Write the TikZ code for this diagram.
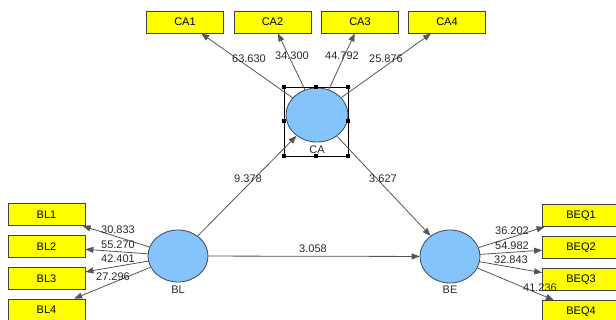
\documentclass[tikz,border=0pt]{standalone}
\usepackage{fontspec}
\setmainfont{Liberation Sans}
\usetikzlibrary{shapes.geometric,arrows.meta}
\definecolor{boxyellow}{RGB}{255,255,0}
\definecolor{lvblue}{RGB}{133,196,250}
\definecolor{lvborder}{RGB}{60,72,88}
\definecolor{linegray}{RGB}{85,85,85}
\definecolor{txt}{RGB}{40,40,40}
\begin{document}
\begin{tikzpicture}[x=1pt,y=-1pt,
  every node/.style={font=\fontsize{11}{13}\selectfont},
  indbox/.style={draw=black!75,line width=0.8pt,fill=boxyellow,minimum width=77pt,minimum height=22pt,inner sep=0pt},
  latent/.style={ellipse,draw=lvborder,line width=0.8pt,fill=lvblue,inner sep=0pt},
  conn/.style={draw=linegray,line width=0.8pt,-{Triangle[length=8pt,width=6pt]}},
  num/.style={text=txt,inner sep=0pt},
  handle/.style={fill=black,minimum size=4pt,inner sep=0pt}
]
\useasboundingbox (0,0) rectangle (616,320);

% indicator boxes
\node[indbox] (CA1) at (185,22) {CA1};
\node[indbox] (CA2) at (272.5,22) {CA2};
\node[indbox] (CA3) at (360,22) {CA3};
\node[indbox] (CA4) at (447,22) {CA4};
\node[indbox] (BL1) at (46.5,214.5) {BL1};
\node[indbox] (BL2) at (46.5,246.5) {BL2};
\node[indbox] (BL3) at (46.5,278.5) {BL3};
\node[indbox] (BL4) at (46.5,310) {BL4};
\node[indbox] (BEQ1) at (581,215.5) {BEQ1};
\node[indbox] (BEQ2) at (581,247.5) {BEQ2};
\node[indbox] (BEQ3) at (581,279.5) {BEQ3};
\node[indbox] (BEQ4) at (581,311.5) {BEQ4};

% latent variables
\node[latent,minimum width=62pt,minimum height=54pt] (CA) at (317,115) {};
\node[latent,minimum width=60pt,minimum height=52pt] (BL) at (178,256) {};
\node[latent,minimum width=60pt,minimum height=53pt] (BE) at (450,256.5) {};
\node[num] (CAlab) at (317,150) {CA};
\node[num] (BLlab) at (178,290) {BL};
\node[num] (BElab) at (450,290) {BE};

% selection frame round CA
\node[draw=black,line width=0.6pt,minimum width=64pt,minimum height=69pt,inner sep=0pt] (CAsel) at (316,121.5) {};
\foreach \a in {north west,north,north east,west,east,south west,south,south east}
  \node[handle] at (CAsel.\a) {};

% connectors
\foreach \t in {CA1,CA2,CA3,CA4} \draw[conn] (CA) -- (\t);
\foreach \t in {BL1,BL2,BL3,BL4} \draw[conn] (BL) -- (\t);
\foreach \t in {BEQ1,BEQ2,BEQ3,BEQ4} \draw[conn] (BE) -- (\t);
\draw[conn] (BL) -- (CA);
\draw[conn] (CA) -- (BE);
\draw[conn] (BL) -- (BE);

% coefficients
\node[num] (l1) at (249,59) {63.630};
\node[num] (l2) at (292,56) {34.300};
\node[num] (l3) at (342,56) {44.792};
\node[num] (l4) at (386,59) {25.876};
\node[num] (l5) at (248,179) {9.378};
\node[num] (l6) at (383,179) {3.627};
\node[num] (l7) at (313,249) {3.058};
\node[num] (l8) at (118,230) {30.833};
\node[num] (l9) at (118,245) {55.270};
\node[num] (l10) at (118,259) {42.401};
\node[num] (l11) at (113,277) {27.296};
\node[num] (l12) at (512,231) {36.202};
\node[num] (l13) at (512,246) {54.982};
\node[num] (l14) at (511,260) {32.843};
\node[num] (l15) at (540,288) {41.236};
\end{tikzpicture}
\end{document}
